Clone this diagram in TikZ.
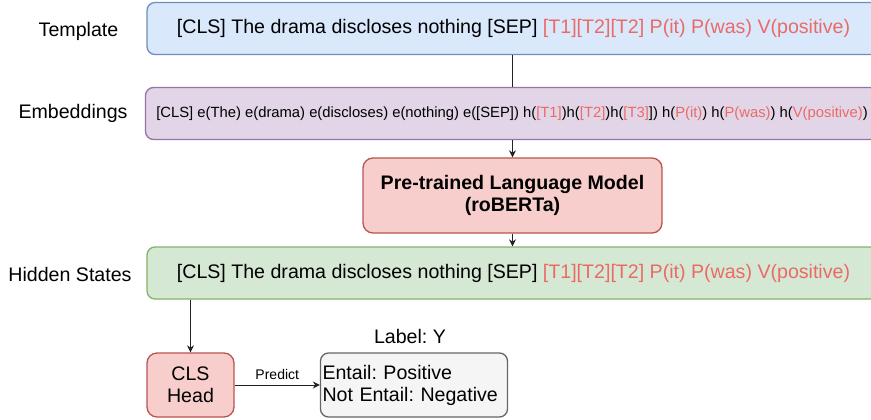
\documentclass[tikz,border=0pt]{standalone}
\usepackage{fontspec}
\setmainfont{Liberation Sans}
\usetikzlibrary{arrows.meta}
\frenchspacing
\definecolor{bluefill}{HTML}{DAE8FC}
\definecolor{bluedraw}{HTML}{6C8EBF}
\definecolor{purfill}{HTML}{E1D5E7}
\definecolor{purdraw}{HTML}{9673A6}
\definecolor{redfill}{HTML}{F8CECC}
\definecolor{reddraw}{HTML}{B85450}
\definecolor{grnfill}{HTML}{D5E8D4}
\definecolor{grndraw}{HTML}{82B366}
\definecolor{grayfill}{HTML}{F5F5F5}
\definecolor{graydraw}{HTML}{666666}
\definecolor{redtext}{HTML}{EA6B66}
\definecolor{linec}{HTML}{222222}
\newcommand{\rt}[1]{\textcolor{redtext}{#1}}
\begin{document}
\frenchspacing
\begin{tikzpicture}[x=1pt,y=-1pt,
  box/.style={draw, rounded corners=8pt, line width=1.3pt, inner sep=0pt, align=center},
  widebox/.style={box, minimum width=733pt, minimum height=52pt},
  big/.style={font=\fontsize{19.6}{22}\selectfont},
  lbl/.style={font=\fontsize{19.6}{22}\selectfont, inner sep=0pt},
  conn/.style={line width=1pt, draw=linec},
  arr/.style={conn, -{Stealth[length=7pt,width=7pt]}}
]
\useasboundingbox (0,0) rectangle (871,420);

\node[widebox, fill=bluefill, draw=bluedraw, big] (tpl) at (513.5,28.5)
  {[CLS] The drama discloses nothing [SEP] \rt{[T1][T2][T2] P(it) P(was) V(positive)}};
\node[widebox, fill=purfill, draw=purdraw, font=\fontsize{14.8}{16}\selectfont] (emb) at (512,113.5)
  {[CLS] e(The) e(drama) e(discloses) e(nothing) e([SEP]) h(\rt{[T1]})h(\rt{[T2]})h(\rt{[T3]}]) h(\rt{P(it)}) h(\rt{P(was)}) h(\rt{V(positive)})};
\node[box, rounded corners=10pt, fill=redfill, draw=reddraw, minimum width=299pt, minimum height=75pt,
  font=\fontsize{19.6}{22}\selectfont\bfseries] (plm) at (512.5,195.5)
  {Pre-trained Language Model\\(roBERTa)};
\node[widebox, fill=grnfill, draw=grndraw, big] (hid) at (513.5,273)
  {[CLS] The drama discloses nothing [SEP] \rt{[T1][T2][T2] P(it) P(was) V(positive)}};

\node[lbl] (ltpl) at (78.5,31) {Template};
\node[lbl] (lemb) at (73,113) {Embeddings};
\node[lbl] (lhid) at (70,274) {Hidden States};

\node[box, rounded corners=10pt, fill=redfill, draw=reddraw, minimum width=87pt, minimum height=64pt, big] (cls) at (190.5,385)
  {CLS\\Head};
\node[box, fill=grayfill, draw=graydraw, minimum width=187pt, minimum height=64pt,
  text width=183pt, inner xsep=2pt, align=left, big] (out) at (414,385)
  {Entail: Positive\\Not Entail: Negative};
\node[lbl] (ly) at (410,336) {Label: Y};

\draw[conn] (tpl.south -| emb.north) -- (emb.north);
\draw[arr] (emb.south -| plm.north) -- (plm.north);
\draw[arr] (plm.south) -- (plm.south |- hid.north);
\draw[arr] (cls.north |- hid.south) -- (cls.north);
\draw[arr] (cls.east) -- node[above=5pt, font=\fontsize{14}{16}\selectfont, inner sep=0pt] {Predict} (out.west);
\end{tikzpicture}
\end{document}
